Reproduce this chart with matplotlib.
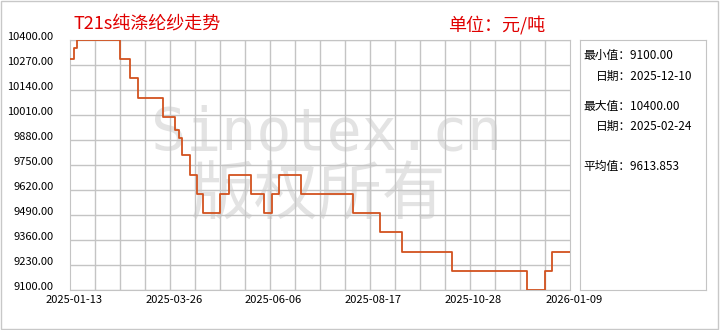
import matplotlib
matplotlib.use("Agg")
import matplotlib.pyplot as plt
import matplotlib.dates as mdates
import matplotlib.transforms as mtransforms
from matplotlib.patches import Rectangle
import pandas as pd
import numpy as np

plt.rcParams['font.family'] = ['Noto Sans CJK SC', 'DejaVu Sans']

# price change points (value holds until next date)
change_dates = ['2025-01-13', '2025-01-16', '2025-01-18', '2025-02-18', '2025-02-25',
                '2025-03-03', '2025-03-21', '2025-03-30', '2025-04-02', '2025-04-04',
                '2025-04-10', '2025-04-15', '2025-04-19', '2025-05-01', '2025-05-08',
                '2025-05-24', '2025-06-02', '2025-06-08', '2025-06-13', '2025-06-29',
                '2025-08-05', '2025-08-25', '2025-09-10', '2025-10-16', '2025-12-09',
                '2025-12-22', '2025-12-27', '2026-01-09']
prices = [10300, 10360, 10400, 10300, 10200,
          10100, 10000, 9930, 9890, 9800,
          9700, 9600, 9500, 9600, 9700,
          9600, 9500, 9600, 9700, 9600,
          9500, 9400, 9300, 9200, 9100,
          9200, 9300, 9300]

y_ticks = [9100, 9230, 9360, 9490, 9620, 9750, 9880, 10010, 10140, 10270, 10400]
x_labels = ['2025-01-13', '2025-03-26', '2025-06-06', '2025-08-17', '2025-10-28', '2026-01-09']

title = 'T21s纯涤纶纱走势'
unit = '单位：元/吨'
stats = [('最小值：9100.00', 0), ('日期：2025-12-10', 1),
         ('最大值：10400.00', 0), ('日期：2025-02-24', 1),
         ('平均值：9613.853', 0)]

W, H = 720, 330
fig = plt.figure(figsize=(W / 100, H / 100), dpi=100)
fig.patch.set_facecolor('white')

def fx(px):
    return px / W

def fy(py):
    return 1 - py / H

# outer border
fig.patches.append(Rectangle((fx(1), fy(329)), fx(717), 328 / H, transform=fig.transFigure,
                             fill=False, edgecolor='#c8c8c8', linewidth=1))

ax = fig.add_axes([fx(70), fy(290), fx(500), 250 / H])
dates = pd.to_datetime(change_dates)
x0 = mdates.date2num(pd.Timestamp(x_labels[0]))
x1 = mdates.date2num(pd.Timestamp(x_labels[-1]))

ax.plot(dates, prices, drawstyle='steps-post', color='#d2521f', linewidth=1.3, zorder=3)
ax.set_xlim(x0, x1)
ax.set_ylim(9100, 10400)

ax.set_yticks(y_ticks)
ax.set_yticklabels(['%.2f' % v for v in y_ticks])
ax.set_xticks([mdates.date2num(pd.Timestamp(d)) for d in x_labels])
ax.set_xticklabels(x_labels)
ax.set_xticks(np.linspace(x0, x1, 21), minor=True)
ax.tick_params(axis='both', which='both', length=0)
ax.tick_params(axis='y', pad=12, labelsize=8)
ax.tick_params(axis='x', pad=3.5, labelsize=8)
ax.grid(True, which='minor', axis='x', color='#c4c4c4', linewidth=1)
ax.grid(True, which='major', axis='y', color='#c4c4c4', linewidth=1)
ax.set_axisbelow(True)
for s in ax.spines.values():
    s.set_color('#c4c4c4')

up = mtransforms.ScaledTranslation(0, 0.04, fig.dpi_scale_trans)
for lab in ax.get_yticklabels():
    lab.set_transform(lab.get_transform() + up)
right = mtransforms.ScaledTranslation(0.04, 0, fig.dpi_scale_trans)
for lab in ax.get_xticklabels():
    lab.set_transform(lab.get_transform() + right)

# watermark, under the grid
ax.text(fx(327), fy(133), 'Sinotex.cn', family='DejaVu Sans Mono',
        fontsize=42, color='#e3e3e3', ha='center', va='center', zorder=0.1,
        transform=fig.transFigure, clip_on=False)
ax.text(fx(318), fy(196), '版权所有', fontsize=46, color='#e3e3e3',
        ha='center', va='center', zorder=0.1, transform=fig.transFigure, clip_on=False)

# titles
fig.text(fx(73), fy(24), title, fontsize=13, color='#e00000', ha='left', va='center')
fig.text(fx(448), fy(25), unit, fontsize=13, color='#e00000', ha='left', va='center')

# stats panel
ax2 = fig.add_axes([fx(580), fy(290), fx(126), 250 / H])
ax2.set_xticks([])
ax2.set_yticks([])
for s in ax2.spines.values():
    s.set_color('#c4c4c4')
ys = [55, 76, 106, 126, 166]
for (txt, indent), yy in zip(stats, ys):
    fig.text(fx(583 + 13 * indent), fy(yy), txt, fontsize=8.5, color='black',
             ha='left', va='center')

fig.savefig('out.png', dpi=100)
